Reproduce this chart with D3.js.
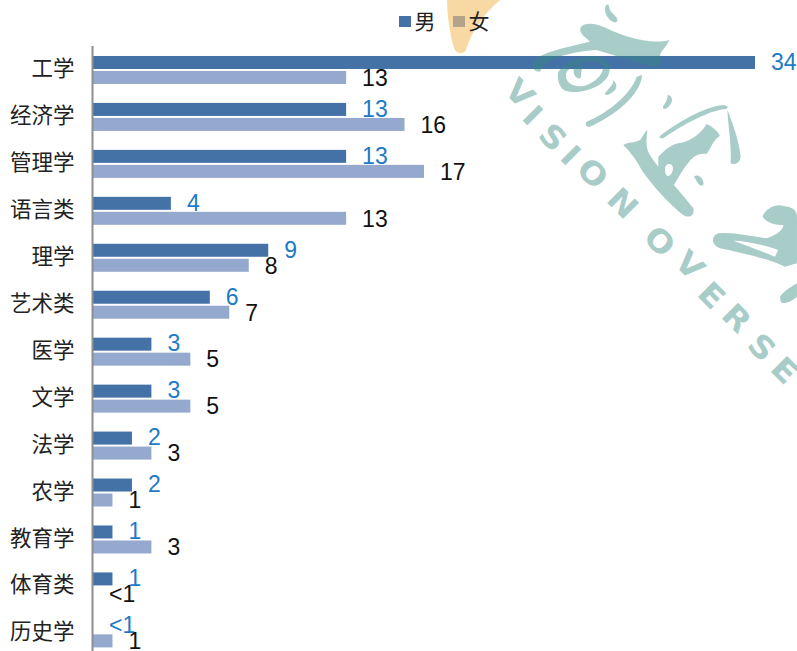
<!DOCTYPE html>
<html><head><meta charset="utf-8">
<style>html,body{margin:0;padding:0;background:#fff;overflow:hidden}svg{display:block}</style>
<script src="https://cdn.jsdelivr.net/npm/d3@7"></script>
</head><body><svg id="c" width="797" height="651"></svg>
<script>
const categories=["工学","经济学","管理学","语言类","理学","艺术类","医学","文学","法学","农学","教育学","体育类","历史学"];
const male=[34,13,13,4,9,6,3,3,2,2,1,1,0];
const female=[13,16,17,13,8,7,5,5,3,1,3,0,1];
const maleLabels=["34","13","13","4","9","6","3","3","2","2","1","1","<1"];
const femaleLabels=["13","16","17","13","8","7","5","5","3","1","3","<1","1"];
const legendItems=["男","女"];
const legendColors=["#4472a6","#b3a38a"];
const maleColor="#4472a6",femaleColor="#95a9cf",maleText="#1c7ac6",femaleText="#111";
const latin="'Liberation Sans',Arial,sans-serif",cjk="'Noto Sans CJK SC','Noto Sans',sans-serif";

const svg=d3.select("#c");
const x=d3.scaleLinear().domain([0,34]).range([93,755]);
const y=d3.scaleBand().domain(categories).range([46.5,46.5+13*46.95]);
const barH=13,gap=2;
const maleY=c=>y(c)+y.bandwidth()/2-barH-gap/2;
const femaleY=c=>y(c)+y.bandwidth()/2+gap/2;

// orange stamp sits behind the legend
svg.append("path").attr("fill","#f8d9a4")
 .attr("d","M447,0 C447,15 450,35 454,48 C456,54 463,55 466,50 C470,38 477,20 500,0Z");

// bars
svg.append("g").selectAll("rect").data(categories).join("rect")
 .attr("x",x(0)).attr("y",maleY).attr("height",barH)
 .attr("width",(c,i)=>x(male[i])-x(0)).attr("fill",maleColor);
svg.append("g").selectAll("rect").data(categories).join("rect")
 .attr("x",x(0)).attr("y",femaleY).attr("height",barH)
 .attr("width",(c,i)=>x(female[i])-x(0)).attr("fill",femaleColor);

// axis
const ax=svg.append("g").attr("transform","translate(93,0)")
 .call(d3.axisLeft(y).tickSize(0).tickPadding(18.5));
ax.select(".domain").attr("stroke","#8e8e8e").attr("stroke-width",2).attr("d","M-0.5,46V651");
ax.selectAll("text").attr("font-family",cjk).attr("font-size",21.5).attr("fill","#222").attr("dy","0.28em");

// value labels
svg.append("g").selectAll("text").data(categories).join("text")
 .attr("x",(c,i)=>x(male[i])+16).attr("y",c=>maleY(c)+barH/2-1).attr("dy","0.36em")
 .attr("font-family",latin).attr("font-size",23).attr("fill",maleText).text((c,i)=>maleLabels[i]);
svg.append("g").selectAll("text").data(categories).join("text")
 .attr("x",(c,i)=>x(female[i])+16).attr("y",c=>femaleY(c)+barH/2).attr("dy","0.36em")
 .attr("font-family",latin).attr("font-size",23).attr("fill",femaleText).text((c,i)=>femaleLabels[i]);

// legend
const lx=d3.scalePoint().domain(legendItems).range([399,453]);
const lg=svg.append("g").selectAll("g").data(legendItems).join("g").attr("transform",d=>`translate(${lx(d)},0)`);
lg.append("rect").attr("y",16).attr("width",12).attr("height",11).attr("fill",(d,i)=>legendColors[i]);
lg.append("text").attr("x",15.5).attr("y",29).attr("font-family",cjk).attr("font-size",21).attr("fill","#222").text(d=>d);

// teal watermark
const wmGroup=svg.append("g").attr("opacity",0.433);
const wm=wmGroup.append("g").attr("fill","#388b82").attr("transform","translate(490,0) scale(0.3333)");
[
"M345,28 C345,10 358,8 358,24 C362,42 385,48 382,64 C372,76 345,52 345,28Z",
"M128,195 C130,165 190,150 300,125 C285,110 265,100 272,82 C285,65 320,70 350,85 C400,110 480,135 538,120 C530,140 515,150 510,165 C518,190 505,205 480,198 C420,180 370,165 320,150 C250,155 170,170 150,215 C135,215 128,208 128,195Z",
"M205,215 C225,190 270,165 320,168 C355,175 370,200 352,232 C330,265 270,285 225,272 C210,265 200,240 205,215Z M228,222 C225,245 245,262 280,258 C315,250 345,220 338,195 C325,178 285,182 260,195 C240,205 230,212 228,222Z",
"M252,205 C262,190 280,192 278,205 C270,215 278,232 268,236 C255,236 248,218 252,205Z",
"M345,280 C358,262 375,250 368,240 C382,248 385,268 365,278 C355,285 345,288 345,280Z",
"M290,365 C340,345 420,290 440,230 L456,225 C455,270 400,335 300,380 C288,382 284,372 290,365Z",
"M520,318 C530,305 535,290 532,285 C545,285 552,300 540,315 C530,330 515,330 520,318Z",
"M510,408 C560,370 640,320 700,315 C720,318 715,328 700,328 C650,335 570,380 520,415 C510,416 506,412 510,408Z",
"M712,330 C725,360 750,430 752,470 C750,490 730,498 722,488 C725,440 715,380 712,330Z",
"M400,435 C415,425 435,430 450,420 C458,410 465,395 472,390 C470,420 465,440 480,465 C500,500 560,560 610,625 C615,650 595,655 580,645 C540,615 490,560 455,510 C440,480 420,455 400,435Z",
"M505,470 C525,450 545,430 575,428 C600,422 630,405 650,372 C665,378 685,395 690,408 C670,420 665,440 650,462 C630,458 610,465 590,495 C570,520 560,545 548,560 C530,545 510,530 505,500Z M525,505 C525,530 535,535 545,520 C552,505 550,490 535,492 C528,495 525,500 525,505Z",
"M612,530 C625,518 645,540 640,555 C628,562 622,545 612,530Z",
"M818,650 C825,625 860,610 880,618 C905,620 921,630 921,650 L921,790 L885,800 C830,775 760,760 690,745 C665,735 660,710 685,700 C730,695 790,710 830,715 C860,705 880,690 880,675 C860,675 830,670 818,650Z M730,722 C780,740 830,760 855,770 L865,750 C820,735 770,722 730,722Z",
"M870,890 C885,870 905,860 921,850 L921,890 C905,905 880,915 872,905Z"
].forEach(d=>wm.append("path").attr("fill-rule","evenodd").attr("d",d));

// watermark wordmark
const wmLetters=["V","I","S","I","O","N","O","V","E","R","S","E"];
const wmX=[520,533,553,571,593,623,660,690,712,737,762,785];
const wmY=[93,115,137,155,173,203,241,265,295,318,347,370];
wmGroup.append("g").selectAll("text").data(wmLetters).join("text")
 .attr("transform",(d,i)=>`translate(${wmX[i]},${wmY[i]}) rotate(45) scale(1.1,1)`)
 .attr("text-anchor","middle").attr("dy","0.36em")
 .attr("font-family","'DejaVu Sans',sans-serif").attr("font-size",31).attr("font-weight",700)
 .attr("fill","#388b82").text(d=>d);
</script></body></html>
